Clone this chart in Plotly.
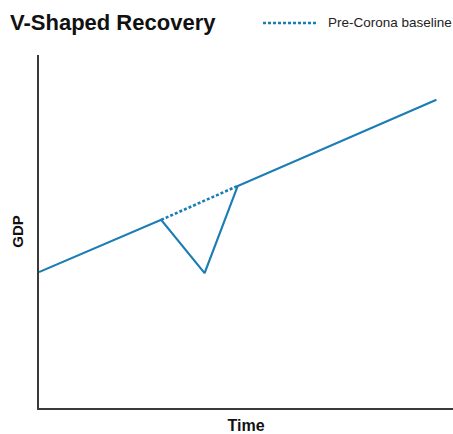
import plotly.graph_objects as go

# GDP path through the shock and recovery (arbitrary units)
time_pts = [0, 2.95, 4.0, 4.8, 9.6]
gdp_pts = [3.85, 5.33, 3.82, 6.29, 8.73]

# Pre-Corona trend that the dip interrupts
baseline_time = [2.95, 4.8]
baseline_gdp = [5.33, 6.29]

BLUE = "#1c7db5"
AXIS = "#3a3a3a"
W, H = 453, 434
DOT = "3px,2px"

fig = go.Figure()
fig.add_trace(go.Scatter(
    x=time_pts, y=gdp_pts, mode="lines",
    line=dict(color=BLUE, width=2.2),
    showlegend=False, hoverinfo="skip",
))
fig.add_trace(go.Scatter(
    x=baseline_time, y=baseline_gdp, mode="lines",
    name="Pre-Corona baseline", showlegend=False, hoverinfo="skip",
    line=dict(color=BLUE, width=2.6, dash=DOT),
))

# Key for the dotted baseline, placed in the header row
key_y = 1 + (55 - 23) / 353
fig.add_shape(
    type="line", xref="paper", yref="paper",
    x0=(263 - 39) / 414, x1=(317 - 39) / 414,
    y0=key_y, y1=key_y,
    line=dict(color=BLUE, width=2.6, dash=DOT),
)
fig.add_annotation(
    text="Pre-Corona baseline", xref="paper", yref="paper",
    x=(326 - 39) / 414, y=key_y,
    xanchor="left", yanchor="middle", showarrow=False,
    font=dict(size=13.5, color="#222"),
)

fig.update_layout(
    width=W, height=H,
    margin=dict(l=39, r=0, t=55, b=26, autoexpand=False),
    paper_bgcolor="white", plot_bgcolor="white",
    font=dict(family="Liberation Sans, Arial, sans-serif", color="#111"),
    title=dict(
        text="<b>V-Shaped Recovery</b>",
        x=10 / W, xanchor="left", xref="container",
        y=1 - 22 / H, yanchor="middle", yref="container",
        font=dict(size=22, color="#111"),
    ),
    showlegend=False,
    xaxis=dict(
        range=[0, 10], showgrid=False, zeroline=False,
        showticklabels=False, ticks="",
        showline=True, linecolor=AXIS, linewidth=1.6,
        title=dict(text="<b>Time</b>", font=dict(size=16, color="#111"), standoff=13),
    ),
    yaxis=dict(
        range=[0, 10], showgrid=False, zeroline=False,
        showticklabels=False, ticks="",
        showline=True, linecolor=AXIS, linewidth=1.6,
        title=dict(text="<b>GDP</b>", font=dict(size=15, color="#111"), standoff=10),
    ),
)

fig.write_html("out.html")
